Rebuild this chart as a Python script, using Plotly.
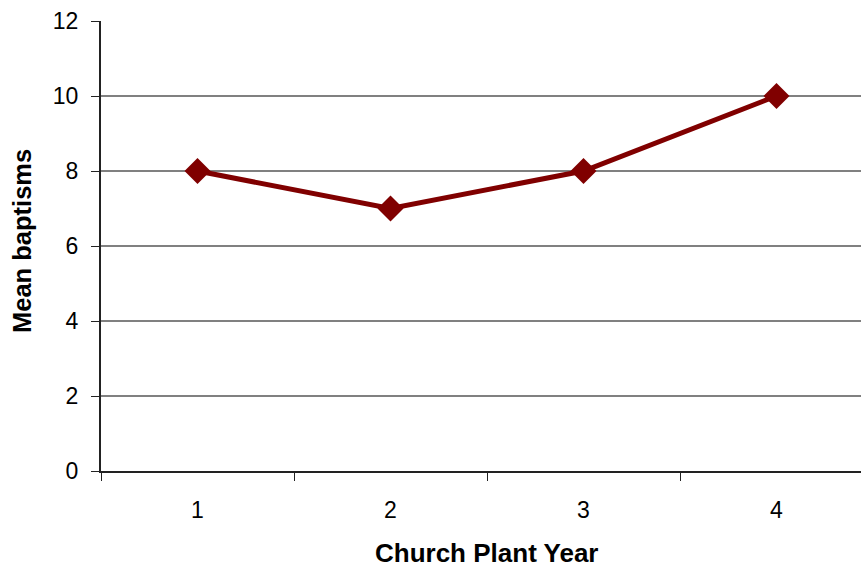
import plotly.graph_objects as go

years = [1, 2, 3, 4]
year_labels = ["1", "2", "3", "4"]
mean_baptisms = [8, 7, 8, 10]
y_ticks = [0, 2, 4, 6, 8, 10, 12]

fig = go.Figure()
fig.add_trace(go.Scatter(
    x=years, y=mean_baptisms, mode="lines+markers",
    line=dict(color="#800000", width=5),
    marker=dict(symbol="diamond", size=20, color="#800000"),
    cliponaxis=False,
))

font = "Liberation Sans, Arial, sans-serif"
fig.update_layout(
    width=861, height=569,
    margin=dict(l=101, r=0, t=21, b=98),
    paper_bgcolor="white", plot_bgcolor="white",
    showlegend=False,
    font=dict(family=font, size=23, color="black"),
    xaxis=dict(
        range=[0.5, 0.5 + 760 / 193], tickvals=years, ticktext=year_labels,
        ticks="", showgrid=False, zeroline=False,
        showline=True, linecolor="#222", linewidth=2,
        tickfont=dict(size=23), ticklabelstandoff=17,
        minor=dict(tickvals=[0.5, 1.5, 2.5, 3.5, 4.5], ticks="outside", ticklen=8, tickcolor="#222", tickwidth=1, showgrid=False),
    ),
    yaxis=dict(
        range=[0, 12], tickvals=y_ticks, ticks="outside", ticklen=8, tickcolor="#222",
        showgrid=True, gridcolor="#808080", gridwidth=1.5, zeroline=False,
        showline=True, linecolor="#222", linewidth=2,
        tickfont=dict(size=23), ticklabelstandoff=8,
    ),
    annotations=[
        dict(
            text="<b>Church Plant Year</b>", xref="paper", yref="paper",
            x=(487 - 101) / 760, y=-82 / 450, xanchor="center", yanchor="middle",
            showarrow=False, font=dict(size=26, family=font),
        ),
        dict(
            text="<b>Mean baptisms</b>", xref="paper", yref="paper",
            x=(22 - 101) / 760, y=(471 - 241) / 450, xanchor="center", yanchor="middle",
            textangle=-90, showarrow=False, font=dict(size=25.5, family=font),
        ),
    ],
)
fig.write_html(
    "out.html",
    config={"displayModeBar": False},
    post_script="document.body.style.margin='0';document.body.style.overflow='hidden';",
)
